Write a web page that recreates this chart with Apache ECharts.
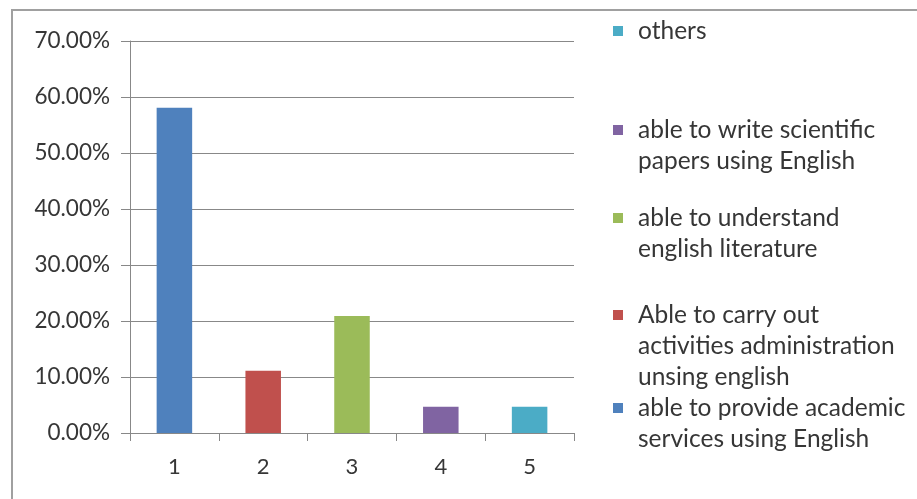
<!DOCTYPE html>
<html>
<head>
<meta charset="utf-8">
<script src="https://cdn.jsdelivr.net/npm/echarts@6/dist/echarts.min.js"></script>
<style>
  html, body { margin: 0; padding: 0; background: #fff; }
  #wrap { position: relative; width: 917px; height: 499px; overflow: hidden; }
  #chart { position: absolute; left: 0; top: 0; width: 917px; height: 499px; }
  #frame { position: absolute; left: 11px; top: 9px; width: 1000px; height: 600px;
           border-left: 2px solid #a0a0a0; border-top: 2px solid #a0a0a0; pointer-events: none; }
</style>
</head>
<body>
<div id="wrap"><div id="chart"></div><div id="frame"></div></div>
<script>
// ---- data ----
const categories = ['1', '2', '3', '4', '5'];
const values = [58.1, 11.1, 20.9, 4.7, 4.7];
const seriesNames = [
  'able to provide academic services using English',
  'Able to carry out activities administration unsing english',
  'able to understand english literature',
  'able to write scientific papers using English',
  'others'
];
const legendLines = [
  ['able to provide academic', 'services using English'],
  ['Able to carry out', 'activities administration', 'unsing english'],
  ['able to understand', 'english literature'],
  ['able to write scientific', 'papers using English'],
  ['others']
];
const yTicks = [0, 10, 20, 30, 40, 50, 60, 70];

// ---- styling ----
const colors = ['#4F81BD', '#C0504D', '#9BBB59', '#8064A2', '#4BACC6'];
const legendFirstLineY = [408, 315, 218, 130, 31];
const LH = 31;
const FONT = 'Lato';
const TXT = '#363636';

const series = seriesNames.map((name, i) => ({
  name: name,
  type: 'bar',
  stack: 'all',
  barWidth: '40%',
  itemStyle: { color: colors[i] },
  data: categories.map((c, j) => (j === i ? values[j] : null))
}));

const legends = seriesNames.map((name, i) => {
  const n = legendLines[i].length;
  // prepend blank lines so that the icon (centred on the text block) sits on the first line
  const txt = '\n'.repeat(n - 1) + legendLines[i].join('\n');
  return {
    data: [name],
    left: 613,
    top: legendFirstLineY[i] - (2 * n - 1) * LH / 2,
    padding: 0,
    itemWidth: 10,
    itemHeight: 10,
    icon: 'rect',
    selectedMode: false,
    formatter: () => txt,
    textStyle: {
      fontFamily: FONT,
      fontSize: 24.5,
      color: TXT,
      lineHeight: LH,
      padding: [0, 0, 0, 10]
    }
  };
});

const chart = echarts.init(document.getElementById('chart'), null, { renderer: 'canvas' });
chart.setOption({
  animation: false,
  backgroundColor: 'transparent',
  grid: { left: 130, right: 343, top: 41, bottom: 66, containLabel: false },
  legend: legends,
  xAxis: {
    type: 'category',
    data: categories,
    axisLine: { show: true, lineStyle: { color: '#888', width: 1 } },
    axisTick: { show: true, alignWithLabel: false, length: 8, lineStyle: { color: '#888' } },
    axisLabel: { fontFamily: FONT, fontSize: 22, color: TXT, margin: 23 }
  },
  yAxis: {
    type: 'value',
    min: yTicks[0],
    max: yTicks[yTicks.length - 1],
    interval: 10,
    axisLine: { show: true, lineStyle: { color: '#888', width: 1 } },
    axisTick: { show: true, length: 9, lineStyle: { color: '#888' } },
    splitLine: { show: true, lineStyle: { color: '#888', width: 1 } },
    axisLabel: {
      fontFamily: FONT, fontSize: 22.5, color: TXT, margin: 20,
      formatter: v => v.toFixed(2) + '%'
    }
  },
  series: series
});
</script>
</body>
</html>
